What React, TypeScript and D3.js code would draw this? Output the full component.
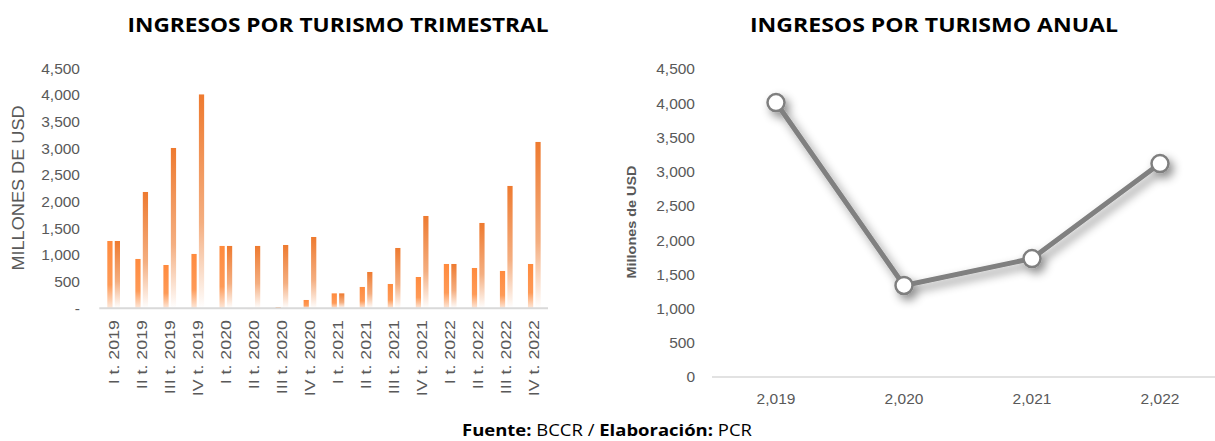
import * as d3 from 'd3';
import React, { useEffect, useRef } from 'react';

// Quarterly chart
const quarters = [
    'I t. 2019', 'II t. 2019', 'III t. 2019', 'IV t. 2019',
    'I t. 2020', 'II t. 2020', 'III t. 2020', 'IV t. 2020',
    'I t. 2021', 'II t. 2021', 'III t. 2021', 'IV t. 2021',
    'I t. 2022', 'II t. 2022', 'III t. 2022', 'IV t. 2022'
];
const trimestral = [1262, 925, 812, 1019, 1169, -15, 20, 156, 280, 400, 456, 587, 831, 756, 700, 831];
const acumulado = [1262, 2181, 3006, 4010, 1169, 1169, 1187, 1337, 280, 681, 1131, 1731, 831, 1600, 2294, 3119];
const leftTicks = [0, 500, 1000, 1500, 2000, 2500, 3000, 3500, 4000, 4500];

// Annual chart
const years = [2019, 2020, 2021, 2022];
const anual = [4010, 1337, 1731, 3119];
const rightTicks = [0, 500, 1000, 1500, 2000, 2500, 3000, 3500, 4000, 4500];

const W = 1215;
const H = 441;
const GRAY = '#595959';
const FONT = '"Liberation Sans", Arial, sans-serif';
const TITLE_FONT = '"Open Sans", "Noto Sans", sans-serif';

function App() {
    const ref = useRef<SVGSVGElement>(null);

    useEffect(() => {
        const svg = d3.select(ref.current);
        svg.selectAll('*').remove();

        const defs = svg.append('defs');

        // gradients for the two bar series (excel style, fading to white)
        const g1 = defs.append('linearGradient').attr('id', 'gTrim')
            .attr('x1', 0).attr('y1', 0).attr('x2', 0).attr('y2', 1);
        g1.append('stop').attr('offset', '0%').attr('stop-color', '#FF8A3D');
        g1.append('stop').attr('offset', '65%').attr('stop-color', '#FE9A57');
        g1.append('stop').attr('offset', '100%').attr('stop-color', '#FDE9DC');

        const g2 = defs.append('linearGradient').attr('id', 'gAcum')
            .attr('x1', 0).attr('y1', 0).attr('x2', 0).attr('y2', 1);
        g2.append('stop').attr('offset', '0%').attr('stop-color', '#EE7A2F');
        g2.append('stop').attr('offset', '60%').attr('stop-color', '#F4AE80');
        g2.append('stop').attr('offset', '100%').attr('stop-color', '#FFFFFF');

        const shadow = defs.append('filter').attr('id', 'shadow')
            .attr('x', '-20%').attr('y', '-20%').attr('width', '140%').attr('height', '140%');
        shadow.append('feDropShadow')
            .attr('dx', 4).attr('dy', 5).attr('stdDeviation', 5)
            .attr('flood-color', '#000').attr('flood-opacity', 0.45);

        /* ---------- left: trimestral ---------- */
        const x = d3.scaleBand().domain(quarters).range([99.3, 548]);
        const x1 = d3.scaleBand().domain(['trim', 'acum'])
            .range([8, 20.7]).paddingInner(0.3);
        const y = d3.scaleLinear().domain([0, 4500]).range([308.3, 68.3]);

        svg.append('text')
            .attr('x', 338).attr('y', 32)
            .attr('text-anchor', 'middle')
            .attr('font-family', TITLE_FONT).attr('font-weight', 700)
            .attr('font-size', 19).attr('textLength', 421)
            .attr('lengthAdjust', 'spacingAndGlyphs')
            .text('INGRESOS POR TURISMO TRIMESTRAL');

        svg.append('g')
            .attr('transform', 'translate(80,0)')
            .call(d3.axisLeft(y).tickValues(leftTicks).tickSize(0).tickPadding(0)
                .tickFormat(d => (d === 0 ? '-' : d3.format(',')(d as number))))
            .call(g => g.select('.domain').remove())
            .selectAll('text')
            .attr('fill', GRAY).attr('font-family', FONT).attr('font-size', 15.5);

        svg.append('text')
            .attr('transform', 'translate(24,188) rotate(-90) scale(1.1,1)')
            .attr('text-anchor', 'middle')
            .attr('fill', GRAY).attr('font-family', FONT).attr('font-size', 16.5)
            .text('MILLONES DE USD');

        const groups = svg.append('g').selectAll('g')
            .data(quarters)
            .join('g')
            .attr('transform', d => `translate(${x(d)},0)`);

        const barRect = (sel, key: string, values: number[]) => sel.append('rect')
            .attr('x', x1(key))
            .attr('width', x1.bandwidth())
            .attr('y', (_, i) => y(Math.max(0, values[i])))
            .attr('height', (_, i) => Math.abs(y(values[i]) - y(0)))
            .attr('fill', key === 'trim' ? 'url(#gTrim)' : 'url(#gAcum)');

        barRect(groups, 'trim', trimestral);
        barRect(groups, 'acum', acumulado);

        svg.append('line')
            .attr('x1', 99.3).attr('x2', 548)
            .attr('y1', y(0)).attr('y2', y(0))
            .attr('stroke', '#D9D9D9').attr('stroke-width', 2);

        svg.append('g').selectAll('text')
            .data(quarters)
            .join('text')
            .attr('transform', d => `translate(${x(d) + x.bandwidth() / 2},320) rotate(-90) scale(1.15,1)`)
            .attr('text-anchor', 'end')
            .attr('dy', '0.35em')
            .attr('fill', GRAY).attr('font-family', FONT).attr('font-size', 15.5)
            .text(d => d);

        /* ---------- right: anual ---------- */
        const xr = d3.scaleBand<number>().domain(years).range([712, 1224]);
        const yr = d3.scaleLinear().domain([0, 4500]).range([377, 69]);

        svg.append('text')
            .attr('x', 934).attr('y', 32)
            .attr('text-anchor', 'middle')
            .attr('font-family', TITLE_FONT).attr('font-weight', 700)
            .attr('font-size', 19).attr('textLength', 368)
            .attr('lengthAdjust', 'spacingAndGlyphs')
            .text('INGRESOS POR TURISMO ANUAL');

        svg.append('g')
            .attr('transform', 'translate(695,0)')
            .call(d3.axisLeft(yr).tickValues(rightTicks).tickSize(0).tickPadding(0)
                .tickFormat(d3.format(',')))
            .call(g => g.select('.domain').remove())
            .selectAll('text')
            .attr('fill', GRAY).attr('font-family', FONT).attr('font-size', 15.5);

        svg.append('text')
            .attr('transform', 'translate(632,222) rotate(-90) scale(1.2,1)')
            .attr('text-anchor', 'middle')
            .attr('dy', '0.35em')
            .attr('fill', GRAY).attr('font-family', FONT).attr('font-weight', 700)
            .attr('font-size', 12)
            .text('Millones de USD');

        svg.append('line')
            .attr('x1', 712).attr('x2', W)
            .attr('y1', yr(0)).attr('y2', yr(0))
            .attr('stroke', '#D9D9D9').attr('stroke-width', 1.5);

        svg.append('g').selectAll('text')
            .data(years)
            .join('text')
            .attr('x', d => xr(d) + xr.bandwidth() / 2)
            .attr('y', 404)
            .attr('text-anchor', 'middle')
            .attr('fill', GRAY).attr('font-family', FONT).attr('font-size', 15.5)
            .text(d => d3.format(',')(d));

        const line = d3.line<number>()
            .x((_, i) => xr(years[i]) + xr.bandwidth() / 2)
            .y(d => yr(d));

        const lg = svg.append('g').attr('filter', 'url(#shadow)');
        lg.append('path')
            .attr('d', line(anual))
            .attr('fill', 'none')
            .attr('stroke', '#808080').attr('stroke-width', 5)
            .attr('stroke-linejoin', 'round');
        lg.selectAll('circle')
            .data(anual)
            .join('circle')
            .attr('cx', (_, i) => xr(years[i]) + xr.bandwidth() / 2)
            .attr('cy', d => yr(d))
            .attr('r', 8.5)
            .attr('fill', '#fff')
            .attr('stroke', '#7F7F7F').attr('stroke-width', 2.5);

        /* ---------- footer ---------- */
        const foot = svg.append('text')
            .attr('x', 607).attr('y', 436)
            .attr('text-anchor', 'middle')
            .attr('font-family', TITLE_FONT).attr('font-size', 16.5)
            .attr('textLength', 290).attr('lengthAdjust', 'spacingAndGlyphs');
        foot.append('tspan').attr('font-weight', 700).text('Fuente:');
        foot.append('tspan').text(' BCCR / ');
        foot.append('tspan').attr('font-weight', 700).text('Elaboración:');
        foot.append('tspan').text(' PCR');
    }, []);

    return (
        <svg
            ref={ref}
            width={W}
            height={H}
            style={{ position: 'absolute', left: 0, top: 0, background: '#fff' }} />
    );
}

export default App;
